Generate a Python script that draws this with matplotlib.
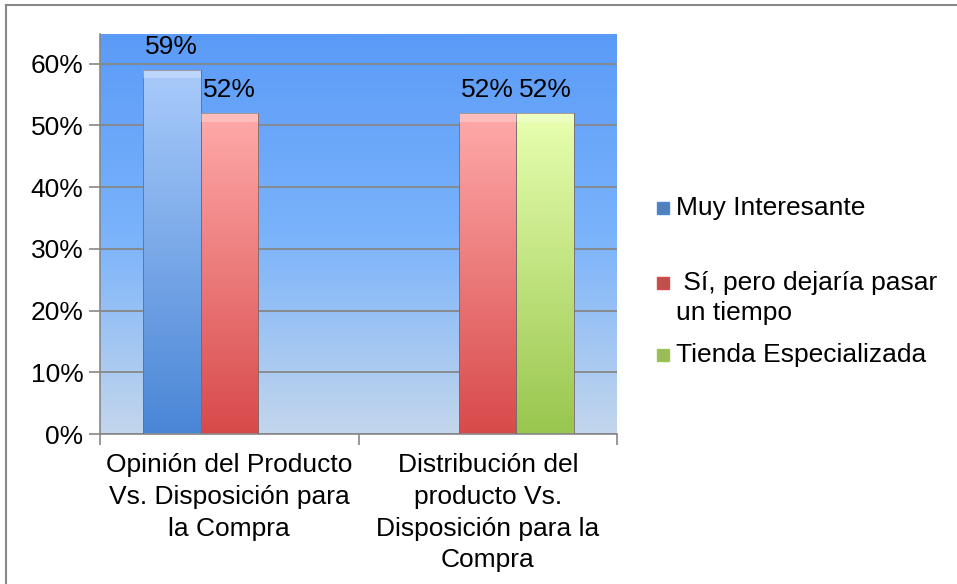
import numpy as np
import matplotlib
matplotlib.use("Agg")
import matplotlib.pyplot as plt
from matplotlib.colors import LinearSegmentedColormap
from matplotlib.lines import Line2D
from matplotlib.patches import Rectangle

plt.rcParams['font.family'] = ['Liberation Sans', 'DejaVu Sans']

# data
categories = ["Opinión del Producto\nVs. Disposición para\nla Compra",
              "Distribución del\nproducto Vs.\nDisposición para la\nCompra"]
series_names = ["Muy Interesante", " Sí, pero dejaría pasar\nun tiempo", "Tienda Especializada"]
muy_interesante = [0.59, 0.0]
si_pero = [0.52, 0.52]
tienda = [0.0, 0.52]
y_ticks = [0, 0.1, 0.2, 0.3, 0.4, 0.5, 0.6]

series = [muy_interesante, si_pero, tienda]
# (top colour, bottom colour, legend colour)
colors = [("#a9cbfb", "#4a86d6", "#4f81bd"),
          ("#ffaaaa", "#d84a4a", "#c0504d"),
          ("#e8ffb0", "#98c64e", "#9bbb59")]

FS = 19
W, H = 957, 584
fig = plt.figure(figsize=(W / 100, H / 100), dpi=100)
ax = fig.add_axes([100 / W, (H - 434) / H, 517 / W, 400 / H])

# background gradient
bg = LinearSegmentedColormap.from_list("bg", ["#c3d6ec", "#7ab3fb", "#5b9bf8"])
grad = np.linspace(0, 1, 256).reshape(-1, 1)
ax.imshow(grad, cmap=bg, origin="lower", aspect="auto",
          extent=[-0.5, 1.5, 0, 0.648], zorder=0)

x = np.arange(len(categories))
width = 0.222
offsets = [-width, 0, width]
for s, vals in enumerate(series):
    top, bot, _ = colors[s]
    cm = LinearSegmentedColormap.from_list("b%d" % s, [bot, top])
    for i, v in enumerate(vals):
        if v <= 0:
            continue
        x0 = x[i] + offsets[s] - width / 2
        rect = Rectangle((x0, 0), width, v, facecolor="none",
                         edgecolor="#7a6a6a", linewidth=0.6, zorder=3)
        ax.add_patch(rect)
        im = ax.imshow(grad, cmap=cm, origin="lower", aspect="auto",
                       extent=[x0, x0 + width, 0, v], zorder=2)
        im.set_clip_path(rect)
        # soft bevel at the top
        ax.add_patch(Rectangle((x0, v - 0.014), width, 0.014,
                               facecolor="white", alpha=0.25, linewidth=0, zorder=3))
        ax.text(x[i] + offsets[s], v + 0.018, "%d%%" % round(v * 100),
                ha="center", va="bottom", fontsize=FS, zorder=4)

ax.set_xlim(-0.5, 1.5)
ax.set_ylim(0, 0.648)

ax.set_yticks(y_ticks)
ax.set_yticklabels(["%d%%" % round(t * 100) for t in y_ticks], fontsize=FS)
ax.yaxis.grid(True, color="#878787", linewidth=1.3, zorder=1)
ax.set_axisbelow(True)

ax.set_xticks([-0.5, 0.5, 1.5])
ax.set_xticklabels([])
ax.set_xticks(x, minor=True)
ax.set_xticklabels(categories, minor=True, fontsize=FS, linespacing=1.4)
ax.tick_params(axis="x", which="minor", length=0, pad=14)
ax.tick_params(axis="both", which="major", length=8, color="#878787", width=1.2)
ax.tick_params(axis="y", pad=4)

for side in ["top", "right"]:
    ax.spines[side].set_visible(False)
for side in ["left", "bottom"]:
    ax.spines[side].set_color("#878787")
    ax.spines[side].set_linewidth(1.2)

# legend, placed by hand to follow the uneven spacing of the original
legend_y = [208, 283, 355]
for name, c, ly in zip(series_names, colors, legend_y):
    fig.add_artist(Line2D([663 / W], [1 - ly / H], marker="s", markersize=8,
                          markerfacecolor=c[2], markeredgecolor=c[1],
                          linestyle="none", transform=fig.transFigure))
    fig.text(676 / W, 1 - (ly - 12) / H, name, fontsize=FS, ha="left", va="top",
             linespacing=1.3)

# outer frame
fig.add_artist(Line2D([6 / W, 1], [1 - 5 / H, 1 - 5 / H], color="#888888", linewidth=1.5))
fig.add_artist(Line2D([6 / W, 6 / W], [0, 1 - 5 / H], color="#888888", linewidth=1.5))

fig.savefig("out.png", dpi=100)
